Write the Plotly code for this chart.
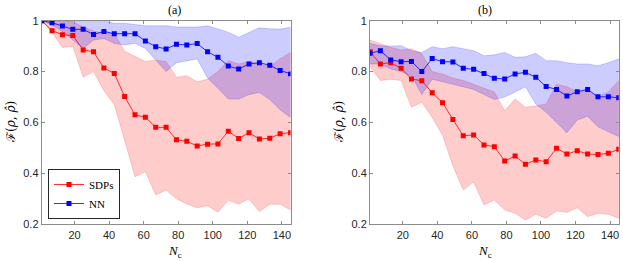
import plotly.graph_objects as go

nc = [1, 7, 13, 19, 25, 31, 37, 43, 49, 55, 61, 67, 73, 79, 85, 91, 97, 103, 109, 115, 121, 127, 133, 139, 145]

# panel (a)
sdp_a = [1.0, 0.961, 0.945, 0.942, 0.885, 0.878, 0.814, 0.793, 0.702, 0.630, 0.621, 0.581, 0.581,
         0.532, 0.526, 0.508, 0.515, 0.516, 0.566, 0.537, 0.560, 0.535, 0.538, 0.556, 0.560]
sdp_a_hi = [1.0, 1.0, 1.0, 0.995, 0.975, 0.96, 0.95, 0.95, 0.88, 0.86, 0.84, 0.845, 0.84,
            0.778, 0.784, 0.76, 0.77, 0.80, 0.843, 0.83, 0.84, 0.83, 0.82, 0.85, 0.876]
sdp_a_lo = [1.0, 0.955, 0.895, 0.90, 0.778, 0.80, 0.725, 0.67, 0.53, 0.387, 0.407, 0.315, 0.335,
            0.30, 0.28, 0.265, 0.273, 0.247, 0.295, 0.279, 0.30, 0.25, 0.279, 0.279, 0.256]
nn_a = [1.0, 0.992, 0.979, 0.966, 0.966, 0.946, 0.958, 0.949, 0.949, 0.949, 0.920, 0.898, 0.889,
        0.907, 0.905, 0.910, 0.878, 0.856, 0.822, 0.810, 0.830, 0.835, 0.825, 0.804, 0.792]
nn_a_hi = [1.0, 1.0, 1.0, 1.0, 1.0, 1.0, 1.0, 0.99, 0.99, 0.985, 0.98, 0.98, 0.98,
           0.975, 0.975, 0.975, 0.98, 0.967, 0.955, 0.935, 0.954, 0.972, 0.968, 0.967, 0.974]
nn_a_lo = [1.0, 0.983, 0.957, 0.924, 0.891, 0.924, 0.93, 0.911, 0.905, 0.911, 0.891, 0.846, 0.80,
           0.835, 0.843, 0.85, 0.775, 0.735, 0.692, 0.692, 0.71, 0.718, 0.69, 0.65, 0.62]

# panel (b)
sdp_b = [0.878, 0.830, 0.835, 0.813, 0.771, 0.764, 0.717, 0.678, 0.612, 0.548, 0.551, 0.512, 0.505,
         0.449, 0.468, 0.436, 0.453, 0.446, 0.499, 0.476, 0.489, 0.476, 0.474, 0.479, 0.495]
sdp_b_hi = [0.924, 0.91, 0.895, 0.885, 0.89, 0.87, 0.80, 0.79, 0.775, 0.765, 0.75, 0.735, 0.72,
            0.646, 0.692, 0.66, 0.665, 0.673, 0.75, 0.74, 0.72, 0.725, 0.70, 0.72, 0.764]
sdp_b_lo = [0.82, 0.765, 0.77, 0.765, 0.66, 0.68, 0.62, 0.55, 0.43, 0.335, 0.367, 0.276, 0.295,
            0.256, 0.243, 0.217, 0.239, 0.224, 0.252, 0.247, 0.265, 0.230, 0.243, 0.239, 0.224]
nn_b = [0.872, 0.882, 0.846, 0.839, 0.840, 0.800, 0.851, 0.839, 0.838, 0.813, 0.809, 0.793, 0.774,
        0.771, 0.791, 0.797, 0.778, 0.741, 0.730, 0.704, 0.721, 0.730, 0.701, 0.701, 0.697]
nn_b_hi = [0.91, 0.902, 0.90, 0.902, 0.882, 0.875, 0.898, 0.89, 0.898, 0.89, 0.882, 0.862, 0.866,
           0.875, 0.856, 0.858, 0.872, 0.843, 0.843, 0.835, 0.83, 0.83, 0.823, 0.835, 0.85]
nn_b_lo = [0.83, 0.83, 0.81, 0.80, 0.784, 0.71, 0.77, 0.76, 0.75, 0.74, 0.73, 0.71, 0.69,
           0.70, 0.72, 0.74, 0.673, 0.64, 0.60, 0.56, 0.61, 0.625, 0.583, 0.565, 0.545]

panel_titles = ["(a)", "(b)"]
series_names = ["SDPs", "NN"]
x_ticks = [20, 40, 60, 80, 100, 120, 140]
y_ticks = [0.2, 0.4, 0.6, 0.8, 1.0]
y_ticktext = ["0.2", "0.4", "0.6", "0.8", "1"]

RED = "#ff0000"
BLUE = "#0000ff"
RED_FILL = "rgba(255,0,0,0.2)"
BLUE_FILL = "rgba(0,0,255,0.2)"
RED_EDGE = "rgba(255,0,0,0.25)"
BLUE_EDGE = "rgba(0,0,255,0.25)"

fig = go.Figure()

panels = [
    ("x", "y", sdp_a, sdp_a_lo, sdp_a_hi, nn_a, nn_a_lo, nn_a_hi, True),
    ("x2", "y2", sdp_b, sdp_b_lo, sdp_b_hi, nn_b, nn_b_lo, nn_b_hi, False),
]

for xa, ya, sdp, slo, shi, nn, nlo, nhi, leg in panels:
    fig.add_trace(go.Scatter(x=nc + nc[::-1], y=shi + slo[::-1], fill="toself",
                             fillcolor=RED_FILL, line=dict(color=RED_EDGE, width=0.7),
                             mode="lines", showlegend=False, hoverinfo="skip", xaxis=xa, yaxis=ya))
    fig.add_trace(go.Scatter(x=nc + nc[::-1], y=nhi + nlo[::-1], fill="toself",
                             fillcolor=BLUE_FILL, line=dict(color=BLUE_EDGE, width=0.7),
                             mode="lines", showlegend=False, hoverinfo="skip", xaxis=xa, yaxis=ya))
    fig.add_trace(go.Scatter(x=nc, y=sdp, mode="lines+markers", name=series_names[0],
                             line=dict(color=RED, width=0.8),
                             marker=dict(symbol="square", size=5, color=RED),
                             showlegend=leg, xaxis=xa, yaxis=ya))
    fig.add_trace(go.Scatter(x=nc, y=nn, mode="lines+markers", name=series_names[1],
                             line=dict(color=BLUE, width=0.8),
                             marker=dict(symbol="square", size=5, color=BLUE),
                             showlegend=leg, xaxis=xa, yaxis=ya))

W, H = 623, 261


def px(x):
    return x / W


def py(y):
    return 1 - y / H


top_px, bot_px = 20.7, 224.3
ydom = [py(bot_px), py(top_px)]
xdom_a = [px(41.7), px(290.5)]
xdom_b = [px(370.0), px(618.7)]

tickfont = dict(family="Liberation Sans, Arial, sans-serif", size=11, color="#262626")
axis_common = dict(showline=True, linecolor="#8c8c8c", linewidth=1, mirror="allticks",
                   ticks="inside", ticklen=3, tickcolor="#8c8c8c", showgrid=False,
                   zeroline=False, tickfont=tickfont, automargin=False)

fig.update_layout(
    width=W, height=H, autosize=False,
    margin=dict(l=0, r=0, t=0, b=0, pad=0, autoexpand=False),
    paper_bgcolor="white", plot_bgcolor="white",
    xaxis=dict(domain=xdom_a, range=[1, 145], tickvals=x_ticks, anchor="y", **axis_common),
    yaxis=dict(domain=ydom, range=[0.2, 1.0], tickvals=y_ticks, ticktext=y_ticktext, anchor="x", **axis_common),
    xaxis2=dict(domain=xdom_b, range=[1, 145], tickvals=x_ticks, anchor="y2", **axis_common),
    yaxis2=dict(domain=ydom, range=[0.2, 1.0], tickvals=y_ticks, ticktext=y_ticktext, anchor="x2", **axis_common),
    showlegend=True,
    legend=dict(x=px(48), y=py(219), xanchor="left", yanchor="bottom",
                bgcolor="white", bordercolor="#262626", borderwidth=1,
                font=dict(family="Liberation Serif, Times New Roman, serif", size=11, color="#000000"),
                tracegroupgap=0, itemwidth=30),
)

serif = "Liberation Serif, Times New Roman, serif"
annots = []
for i, (dom, title) in enumerate([(xdom_a, panel_titles[0]), (xdom_b, panel_titles[1])]):
    cx = (dom[0] + dom[1]) / 2
    annots.append(dict(text=title, x=cx, y=py(10), xref="paper", yref="paper", yanchor="middle",
                       showarrow=False, font=dict(family=serif, size=12, color="#000")))
    annots.append(dict(text="<i>N</i><sub>c</sub>", x=cx, y=py(251), xref="paper", yref="paper",
                       yanchor="middle", showarrow=False, font=dict(family=serif, size=13, color="#000")))
    lx = [11, 339][i]
    annots.append(dict(text="ℱ(<i>ρ</i>, <i>ρ̂</i>)", x=px(lx), y=py(122), xref="paper", yref="paper",
                       xanchor="center", yanchor="middle",
                       showarrow=False, textangle=-90, font=dict(family="DejaVu Serif, serif", size=12, color="#000")))
fig.update_layout(annotations=annots)

fig.write_html("out.html", config={"displayModeBar": False},
               post_script="document.body.style.margin='0px';")
